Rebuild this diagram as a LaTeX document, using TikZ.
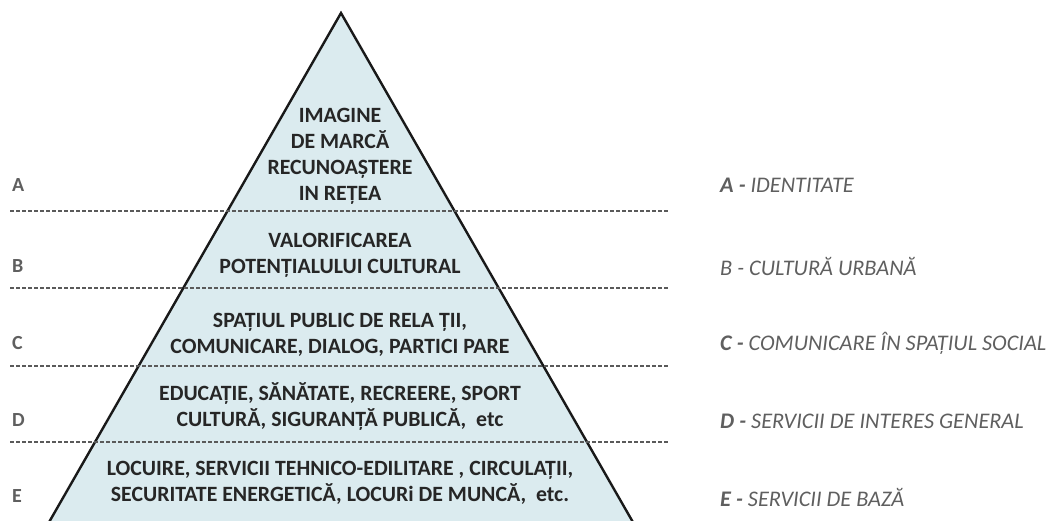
\documentclass[tikz,border=0pt]{standalone}
\usepackage{fontspec}
\setmainfont{Carlito}
\definecolor{pfill}{HTML}{DBEBEF}
\definecolor{ptext}{HTML}{262626}
\definecolor{lgray}{HTML}{5F5F5F}
\definecolor{dgray}{HTML}{5A5A5A}
\begin{document}
\begin{tikzpicture}[x=1pt,y=-1pt,
  tier/.style={align=center,font=\fontsize{21.8}{26}\selectfont\bfseries,text=ptext,inner sep=0pt},
  leftlab/.style={anchor=west,font=\fontsize{20}{22}\selectfont\bfseries,text=lgray,inner sep=0pt},
  rightlab/.style={anchor=west,font=\fontsize{22.3}{24}\selectfont\itshape,text=lgray,inner sep=0pt},
  sepline/.style={draw=dgray,line width=2pt,dash pattern=on 4pt off 2pt}]
\useasboundingbox (0,0) rectangle (1050,520);
\clip (0,0) rectangle (1050,520);
% pyramid
\coordinate (apex) at (341,13);
\coordinate (bl) at (48,524);
\coordinate (br) at (634,524);
\filldraw[fill=pfill,draw=black!90,line width=2.4pt,line join=miter] (bl) -- (apex) -- (br) -- cycle;
% separators
\foreach \y/\n in {211/a,288/b,366/c,442/d}{
  \coordinate (s\n l) at (10,\y);
  \coordinate (s\n r) at (668,\y);
  \draw[sepline] (s\n l) -- (s\n r);
}
% tier texts
\node[tier] (ta) at (340,156) {IMAGINE\\DE MARCĂ\\RECUNOAȘTERE\\IN REȚEA};
\node[tier] (tb) at (340,255) {VALORIFICAREA\\POTENȚIALULUI CULTURAL};
\node[tier] (tc) at (340,334.5) {SPAȚIUL PUBLIC DE RELA ȚII,\\COMUNICARE, DIALOG, PARTICI PARE};
\node[tier] (td) at (340,406.5) {EDUCAȚIE, SĂNĂTATE, RECREERE, SPORT\\CULTURĂ, SIGURANȚĂ PUBLICĂ,\ \ etc};
\node[tier] (te) at (340,482.5) {LOCUIRE, SERVICII TEHNICO-EDILITARE , CIRCULAȚII,\\SECURITATE ENERGETICĂ, LOCURi DE MUNCĂ,\ \ etc.};
% left letters
\node[leftlab] (la) at (12,185) {A};
\node[leftlab] (lb) at (12,266) {B};
\node[leftlab] (lc) at (12,343) {C};
\node[leftlab] (ld) at (12,420) {D};
\node[leftlab] (le) at (12,496) {E};
% right labels
\node[rightlab] (ra) at (720,185) {\textbf{A -} IDENTITATE};
\node[rightlab] (rb) at (720,266) {B - CULTURĂ URBANĂ};
\node[rightlab] (rc) at (720,343) {\textbf{C -} COMUNICARE ÎN SPAȚIUL SOCIAL};
\node[rightlab] (rd) at (720,421) {\textbf{D -} SERVICII DE INTERES GENERAL};
\node[rightlab] (re) at (720,497) {\textbf{E -} SERVICII DE BAZĂ};
\end{tikzpicture}
\end{document}
